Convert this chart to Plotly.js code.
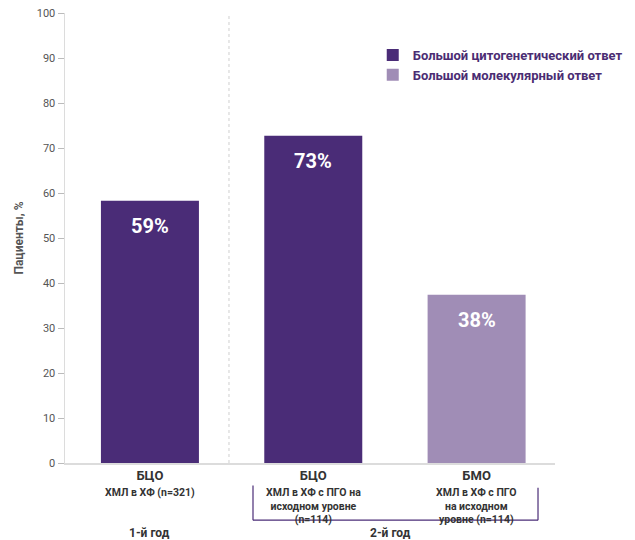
<!DOCTYPE html>
<html><head><meta charset="utf-8">
<script src="https://cdn.plot.ly/plotly-3.0.1.min.js"></script>
<style>body{margin:0;background:#fff}#c{width:635px;height:540px}</style>
</head><body><div id="c"></div>
<script>
const categories = ['БЦО', 'БЦО', 'БМО'];
const subLabels = ['ХМЛ в ХФ (n=321)', 'ХМЛ в ХФ с ПГО на<br>исходном уровне<br>(n=114)', 'ХМЛ в ХФ с ПГО<br>на исходном<br>уровне (n=114)'];
const mcyrIdx = [0, 1];
const mcyrValues = [58.3, 72.7];
const mcyrLabels = ['59%', '73%'];
const mmrIdx = [2];
const mmrValues = [37.4];
const mmrLabels = ['38%'];
const yearLabels = ['1-й год', '2-й год'];
const seriesNames = ['Большой цитогенетический ответ', 'Большой молекулярный ответ'];

const dark = '#4a2c77', light = '#a08db6', txt = '#4b2d73';
const F = 'Roboto, "DejaVu Sans", sans-serif';

const traces = [
  {type:'bar', name:seriesNames[0], x:mcyrIdx, y:mcyrValues, width:0.6, marker:{color:dark}, hoverinfo:'none'},
  {type:'bar', name:seriesNames[1], x:mmrIdx, y:mmrValues, width:0.6, marker:{color:light}, hoverinfo:'none'}
];

const ann = [];
mcyrIdx.forEach((x,i)=>ann.push({x:x, y:mcyrValues[i], xref:'x', yref:'y', yanchor:'top', yshift:-11, text:'<b>'+mcyrLabels[i]+'</b>', showarrow:false, font:{family:F, size:20, color:'#fff'}}));
mmrIdx.forEach((x,i)=>ann.push({x:x, y:mmrValues[i], xref:'x', yref:'y', yanchor:'top', yshift:-11, text:'<b>'+mmrLabels[i]+'</b>', showarrow:false, font:{family:F, size:20, color:'#fff'}}));
subLabels.forEach((s,i)=>ann.push({x:i, y:0, xref:'x', yref:'y', yanchor:'top', yshift:-21, text:'<b>'+s+'</b>', showarrow:false, font:{family:F, size:10.5, color:'#333'}, align:'center'}));
ann.push({x:0, y:-0.155, xref:'x', yref:'paper', yanchor:'middle', text:'<b>'+yearLabels[0]+'</b>', showarrow:false, font:{family:F, size:12, color:'#333'}});
ann.push({x:1.47, y:-0.155, xref:'x', yref:'paper', yanchor:'middle', text:'<b>'+yearLabels[1]+'</b>', showarrow:false, font:{family:F, size:12, color:'#333'}});

const shapes = [
  {type:'line', xref:'x', yref:'paper', x0:0.484, x1:0.484, y0:0, y1:1, line:{color:'#cfcfcf', width:1, dash:'dot'}},
  {type:'line', xref:'x', yref:'paper', x0:0.631, x1:0.631, y0:-0.05, y1:-0.127, line:{color:dark, width:1.2}},
  {type:'line', xref:'x', yref:'paper', x0:0.631, x1:2.376, y0:-0.127, y1:-0.127, line:{color:dark, width:1.2}},
  {type:'line', xref:'x', yref:'paper', x0:2.376, x1:2.376, y0:-0.055, y1:-0.127, line:{color:dark, width:1.2}}
];

const layout = {
  width:635, height:540,
  margin:{l:65, r:80, t:13, b:77, autoexpand:false},
  paper_bgcolor:'#fff', plot_bgcolor:'#fff',
  barmode:'overlay',
  showlegend:true,
  legend:{xref:'container', yref:'container', x:0.587, y:0.926, xanchor:'left', yanchor:'top', bgcolor:'rgba(0,0,0,0)', font:{family:F, size:13, color:txt, weight:'bold'}, tracegroupgap:0, itemwidth:30},
  xaxis:{range:[-0.52,2.48], tickvals:[0,1,2], ticktext:categories.map(c=>'<b>'+c+'</b>'), tickfont:{family:F, size:13, color:'#333'}, showline:true, linecolor:'#dcdcdc', linewidth:1.5, ticks:'', showgrid:false, zeroline:false, fixedrange:true},
  yaxis:{range:[0,100], dtick:10, tickfont:{family:F, size:11, color:'#555'}, ticks:'outside', ticklen:6, tickcolor:'#bbb', showline:true, linecolor:'#dcdcdc', linewidth:1.5, showgrid:false, zeroline:false,
    title:{text:'<b>Пациенты, %</b>', font:{family:F, size:12, color:'#555'}, standoff:10}},
  annotations:ann,
  shapes:shapes
};
Plotly.newPlot('c', traces, layout, {displayModeBar:false, staticPlot:true});
</script></body></html>
